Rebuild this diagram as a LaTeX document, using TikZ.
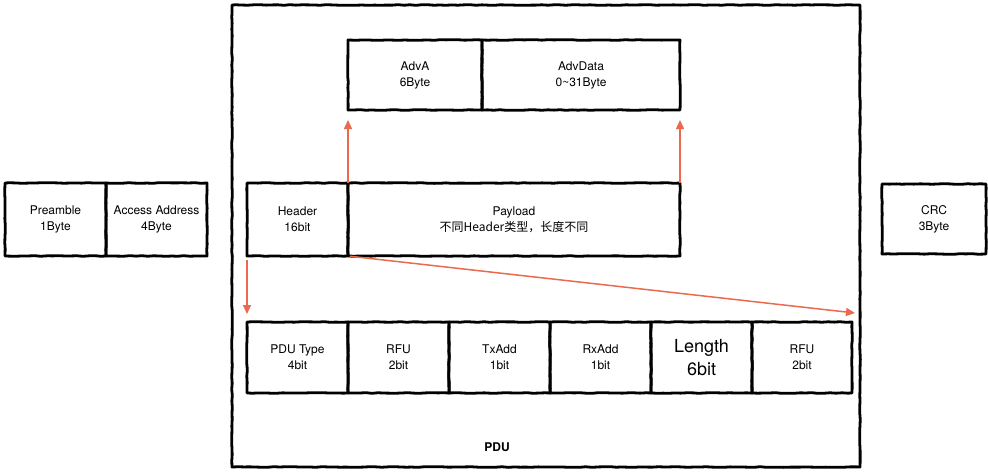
\documentclass[tikz,border=0pt]{standalone}
\usepackage{fontspec}
\setmainfont{TeX Gyre Heros}
\newfontfamily\cjk{Noto Sans CJK SC}
\usetikzlibrary{arrows.meta,decorations.pathmorphing}
\definecolor{arrowred}{HTML}{EB6A4F}
\begin{document}
\begin{tikzpicture}[x=1pt,y=-1pt,
  field/.style={draw,line width=2.8pt,line join=round,outer sep=0pt,inner sep=0pt,anchor=north west,align=center,
    decorate,decoration={random steps,segment length=6pt,amplitude=0.35pt},font=\fontsize{12}{16}\selectfont},
  link/.style={arrowred,line width=1.5pt,-{Triangle[width=8pt,length=9pt]}}]
\useasboundingbox (0,0) rectangle (988,474);
% outer frame of the PDU
\node[field,minimum width=628pt,minimum height=462pt] (pdubox) at (232,5) {};
\node[font=\bfseries\fontsize{12}{14}\selectfont] (pdulabel) at (497,447) {PDU};
% packet
\node[field,minimum width=101pt,minimum height=73pt] (preamble) at (5,183) {Preamble\\1Byte};
\node[field,minimum width=101pt,minimum height=73pt] (access) at (106,183) {Access Address\\4Byte};
\node[field,minimum width=101pt,minimum height=73pt] (header) at (247,183) {Header\\16bit};
\node[field,minimum width=332pt,minimum height=73pt] (payload) at (348,183) {Payload\\{\cjk 不同Header类型，长度不同}};
\node[field,minimum width=104pt,minimum height=70pt] (crc) at (882,184) {CRC\\3Byte};
% payload fields
\node[field,minimum width=134pt,minimum height=70pt] (adva) at (348,40) {AdvA\\6Byte};
\node[field,minimum width=198pt,minimum height=70pt] (advdata) at (482,40) {AdvData\\0\textasciitilde31Byte};
% header fields
\node[field,minimum width=101pt,minimum height=71pt] (pdutype) at (247,322) {PDU Type\\4bit};
\node[field,minimum width=101pt,minimum height=71pt] (rfua) at (348,322) {RFU\\2bit};
\node[field,minimum width=101pt,minimum height=71pt] (txadd) at (449,322) {TxAdd\\1bit};
\node[field,minimum width=101pt,minimum height=71pt] (rxadd) at (550,322) {RxAdd\\1bit};
\node[field,minimum width=101pt,minimum height=71pt,font=\fontsize{18}{23}\selectfont] (length) at (651,322) {Length\\6bit};
\node[field,minimum width=100pt,minimum height=71pt] (rfub) at (752,322) {RFU\\2bit};
\coordinate (diagtip) at ([shift={(3pt,9pt)}]rfub.north east);
% arrows
\draw[link,shorten >=10pt] (header.north east) -- (adva.south west);
\draw[link,shorten >=10pt] (payload.north east) -- (advdata.south east);
\draw[link,shorten <=4pt,shorten >=8pt] (header.south west) -- (pdutype.north west);
\draw[link,shorten <=2pt] (header.south east) -- (diagtip);
\end{tikzpicture}
\end{document}
